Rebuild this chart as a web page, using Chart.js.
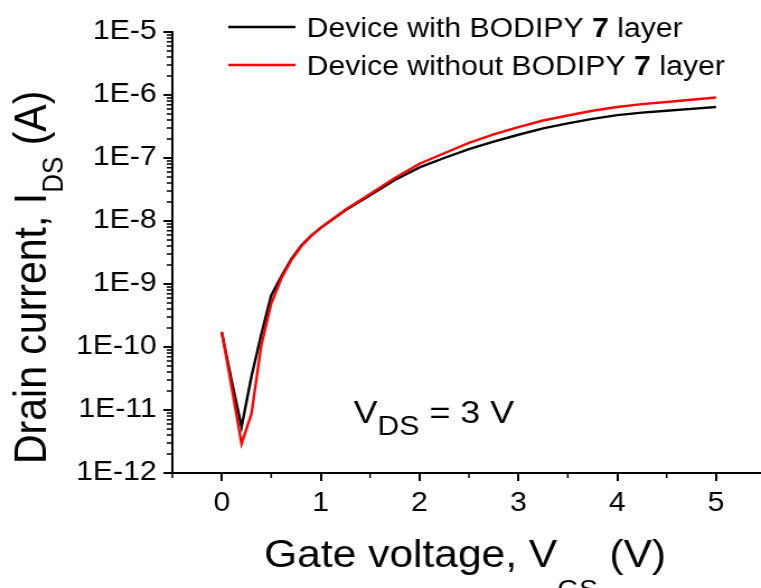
<!DOCTYPE html>
<html>
<head>
<meta charset="utf-8">
<script src="https://cdn.jsdelivr.net/npm/chart.js@4/dist/chart.umd.min.js"></script>
<style>
  html, body { margin: 0; padding: 0; background: #fff; }
  #wrap { width: 761px; height: 588px; overflow: hidden; position: relative; }
  /* plot is laid out narrow and widened horizontally */
  #transfer { display: block; transform: scaleX(1.11912); transform-origin: 0 0; }
</style>
</head>
<body>
<div id="wrap"><canvas id="transfer" width="684" height="588"></canvas></div>
<script>
// Gate voltage (V) and drain current (A) for both devices
const vgs = [0, 0.1, 0.2, 0.3, 0.4, 0.5, 0.6, 0.7, 0.8, 0.9, 1.0,
             1.25, 1.5, 1.75, 2.0, 2.25, 2.5, 2.75, 3.0, 3.25, 3.5, 3.75, 4.0, 4.25, 4.5, 4.75, 5.0];
const idsWithLayer = [1.7e-10, 2.9e-11, 5.4e-12, 3.4e-11, 1.6e-10, 6.6e-10, 1.3e-9, 2.45e-9, 4.0e-9, 5.75e-9, 7.8e-9,
                      1.48e-8, 2.57e-8, 4.47e-8, 7.1e-8, 1.0e-7, 1.38e-7, 1.82e-7, 2.34e-7, 2.95e-7, 3.55e-7,
                      4.17e-7, 4.79e-7, 5.25e-7, 5.62e-7, 6.03e-7, 6.46e-7];
const idsWithoutLayer = [1.75e-10, 2.3e-11, 2.9e-12, 8.7e-12, 1.07e-10, 4.9e-10, 1.2e-9, 2.35e-9, 3.9e-9, 5.75e-9, 7.8e-9,
                         1.51e-8, 2.69e-8, 4.8e-8, 8.1e-8, 1.19e-7, 1.74e-7, 2.37e-7, 3.09e-7, 3.94e-7, 4.73e-7,
                         5.62e-7, 6.46e-7, 7.16e-7, 7.76e-7, 8.41e-7, 9.12e-7];

const seriesNames = ['Device with BODIPY ', 'Device without BODIPY '];
const xMajor = [0, 1, 2, 3, 4, 5];
const xMinor = [-0.5, 0.5, 1.5, 2.5, 3.5, 4.5, 5.5];
const yDecades = [1e-12, 1e-11, 1e-10, 1e-9, 1e-8, 1e-7, 1e-6, 1e-5];

const FONT = '"Liberation Sans", Arial, sans-serif';

function toPoints(ys) {
    return vgs.map((v, i) => ({ x: v, y: ys[i] }));
}

// draw text made of plain / bold / subscript pieces, returns end x
function drawRuns(ctx, runs, x, y) {
    runs.forEach(r => {
        ctx.font = (r.bold ? 'bold ' : '') + r.size + 'px ' + FONT;
        ctx.fillText(r.text, x, y + (r.dy || 0));
        x += ctx.measureText(r.text).width;
    });
    return x;
}

const decorations = {
    id: 'decorations',
    afterDraw(chart) {
        const { ctx, scales: { x, y } } = chart;
        const area = chart.chartArea;
        ctx.save();
        ctx.strokeStyle = '#000';
        ctx.lineWidth = 1.5;

        // minor ticks
        ctx.beginPath();
        xMinor.forEach(v => {
            const px = x.getPixelForValue(v);
            ctx.moveTo(px, area.bottom);
            ctx.lineTo(px, area.bottom + 5);
        });
        for (let k = -12; k < -5; k++) {
            for (let m = 2; m <= 9; m++) {
                const py = y.getPixelForValue(m * Math.pow(10, k));
                ctx.moveTo(area.left - 5, py);
                ctx.lineTo(area.left, py);
            }
        }
        ctx.stroke();

        ctx.fillStyle = '#000';
        ctx.textAlign = 'left';
        ctx.textBaseline = 'alphabetic';

        // legend
        const legendColors = ['#000000', '#ff0000'];
        const rowY = [27, 65];
        seriesNames.forEach((name, i) => {
            ctx.strokeStyle = legendColors[i];
            ctx.lineWidth = 2.4;
            ctx.beginPath();
            ctx.moveTo(204, rowY[i]);
            ctx.lineTo(264, rowY[i]);
            ctx.stroke();
            drawRuns(ctx, [
                { text: name, size: 27 },
                { text: '7', size: 27, bold: true },
                { text: ' layer', size: 27 }
            ], 274, rowY[i] + 10);
        });

        // x title
        drawRuns(ctx, [
            { text: 'Gate voltage, V', size: 38 },
            { text: 'GS', size: 25, dy: 31 },
            { text: ' (V)', size: 38 }
        ], 236, 567);

        // y title
        ctx.save();
        ctx.translate(41, 464);
        ctx.rotate(-Math.PI / 2);
        drawRuns(ctx, [
            { text: 'Drain current, I', size: 41 },
            { text: 'DS', size: 26, dy: 15 },
            { text: ' (A)', size: 41 }
        ], 0, 0);
        ctx.restore();

        // bias note
        drawRuns(ctx, [
            { text: 'V', size: 32 },
            { text: 'DS', size: 27, dy: 12 },
            { text: ' = 3 V', size: 32 }
        ], 316, 423);

        ctx.restore();
    }
};

const axisGrid = { drawOnChartArea: false, drawTicks: true, tickLength: 8, lineWidth: 2, color: '#000' };

new Chart(document.getElementById('transfer'), {
    type: 'line',
    plugins: [decorations],
    data: {
        datasets: [
            {
                label: 'with layer',
                data: toPoints(idsWithLayer),
                borderColor: '#000000',
                borderWidth: 2.4,
                pointRadius: 0,
                tension: 0,
                order: 1
            },
            {
                label: 'without layer',
                data: toPoints(idsWithoutLayer),
                borderColor: '#ff0000',
                borderWidth: 2.4,
                pointRadius: 0,
                tension: 0,
                order: 0
            }
        ]
    },
    options: {
        responsive: false,
        animation: false,
        devicePixelRatio: 1,
        layout: { padding: { top: 32, left: 0, right: 0, bottom: 0 } },
        plugins: { legend: { display: false }, tooltip: { enabled: false } },
        scales: {
            x: {
                type: 'linear',
                min: -0.5,
                max: 5.5,
                afterBuildTicks: s => { s.ticks = xMajor.map(v => ({ value: v })); },
                afterFit: s => { s.height = 115; },
                ticks: {
                    color: '#000',
                    font: { family: FONT, size: 27 },
                    padding: 6,
                    maxRotation: 0,
                    autoSkip: false,
                    callback: v => String(v)
                },
                grid: axisGrid,
                border: { color: '#000', width: 2 }
            },
            y: {
                type: 'logarithmic',
                min: 1e-12,
                max: 1e-5,
                afterBuildTicks: s => { s.ticks = yDecades.map(v => ({ value: v })); },
                afterFit: s => { s.width = 154; },
                ticks: {
                    color: '#000',
                    font: { family: FONT, size: 27 },
                    padding: 6,
                    autoSkip: false,
                    callback: v => '1E' + Math.round(Math.log10(v))
                },
                grid: axisGrid,
                border: { color: '#000', width: 2 }
            }
        }
    }
});
</script>
</body>
</html>
